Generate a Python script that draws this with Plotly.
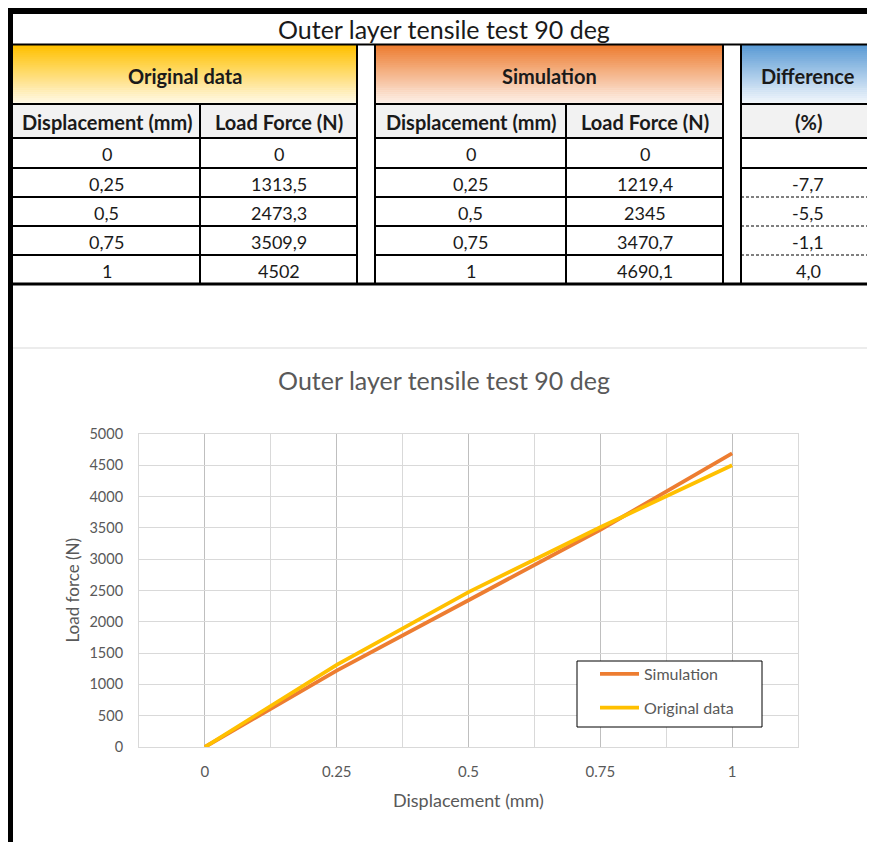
import plotly.graph_objects as go

# ---------------- data ----------------
title_text = "Outer layer tensile test 90 deg"
group_headers = ["Original data", "Simulation", "Difference"]
sub_headers = ["Displacement (mm)", "Load Force (N)", "Displacement (mm)", "Load Force (N)", "(%)"]
displacement = [0, 0.25, 0.5, 0.75, 1]
original_load = [0, 1313.5, 2473.3, 3509.9, 4502]
simulation_load = [0, 1219.4, 2345, 3470.7, 4690.1]
difference_pct = [None, -7.7, -5.5, -1.1, 4.0]
x_tick_labels = ["0", "0.25", "0.5", "0.75", "1"]
y_ticks = [0, 500, 1000, 1500, 2000, 2500, 3000, 3500, 4000, 4500, 5000]
x_title = "Displacement (mm)"
y_title = "Load force (N)"

FONT = "Lato, Carlito, Calibri, sans-serif"
GREY = "#595959"
OFF = 8            # page body margin of the browser
W, H = 875 - 2 * OFF, 850 - 2 * OFF
XMAX = OFF + W     # right-most reference pixel visible


def X(px):
    return (min(px, XMAX) - OFF) / W


def Y(py):
    return 1 - (py - OFF) / H


def fmt(v):
    return f"{v:g}".replace(".", ",")


shapes = []
annotations = []


def rect(x0, y0, x1, y1, fill, layer="below", line=None):
    shapes.append(dict(type="rect", xref="paper", yref="paper", x0=X(x0), x1=X(x1),
                       y0=Y(y1), y1=Y(y0), fillcolor=fill,
                       line=line if line else dict(width=0), layer=layer))


def hline(x0, x1, y, w=2, color="black", dash="solid"):
    shapes.append(dict(type="line", xref="paper", yref="paper", x0=X(x0), x1=X(x1),
                       y0=Y(y), y1=Y(y), line=dict(color=color, width=w, dash=dash), layer="above"))


def vline(x, y0, y1, w=2, color="black"):
    shapes.append(dict(type="line", xref="paper", yref="paper", x0=X(x), x1=X(x),
                       y0=Y(y0), y1=Y(y1), line=dict(color=color, width=w), layer="above"))


def text(x, y, s, size=15, bold=False, color="black", angle=0):
    annotations.append(dict(xref="paper", yref="paper", x=X(x), y=Y(y), text=f"<b>{s}</b>" if bold else s,
                            showarrow=False, xanchor="center", yanchor="middle", textangle=angle,
                            font=dict(family=FONT, size=size, color=color)))


def gradient(x0, x1, y0, y1, c_top, c_bot, n=30):
    step = (y1 - y0) / n
    for i in range(n):
        t = i / (n - 1)
        c = tuple(round(a + (b - a) * t) for a, b in zip(c_top, c_bot))
        rect(x0, y0 + i * step, x1, y0 + (i + 1) * step + 0.6, f"rgb{c}")


# ---------------- table geometry ----------------
blocks = [(13, 357), (375, 723), (741, 875)]
col_edges = [(13, 200), (200, 357), (375, 566), (566, 723), (741, 875)]
row_tops = [138, 168, 197, 226, 255, 284]

gradient(13, 357, 45, 104, (255, 192, 0), (255, 249, 230))
gradient(375, 723, 45, 104, (237, 125, 49), (253, 240, 232))
gradient(741, 875, 45, 104, (91, 155, 213), (242, 247, 252))
for a, b in blocks:
    rect(a, 104, b, 138, "#F2F2F2")

text(444, 29, title_text, size=25, color="#1a1a1a")
for (a, b), s in zip(blocks, group_headers):
    text((a + b) / 2, 76, s, size=20, bold=True, color="#1a1a1a")
for (a, b), s in zip(col_edges, sub_headers):
    text((a + b) / 2, 122, s, size=20, bold=True, color="#1a1a1a")

columns = [
    [fmt(v) for v in displacement],
    [fmt(v) for v in original_load],
    [fmt(v) for v in displacement],
    [fmt(v) for v in simulation_load],
    ["" if v is None else f"{v:.1f}".replace(".", ",") for v in difference_pct],
]
for (a, b), col in zip(col_edges, columns):
    for i, s in enumerate(col):
        if s:
            text((a + b) / 2, (row_tops[i] + row_tops[i + 1]) / 2 + 1, s, size=18, color="#1a1a1a")

hline(7, 875, 11, w=6)
hline(13, 875, 44.5, w=2)
for a, b in blocks:
    hline(a, b, 104, w=2)
    hline(a, b, 138, w=2)
    hline(a, b, 168, w=2)
for y in (197, 226, 255):
    hline(13, 357, y, w=2)
    hline(375, 723, y, w=2)
    hline(741, 875, y, w=1, dash="3px,2px")
hline(13, 875, 284, w=3)
vline(200, 104, 284)
vline(566, 104, 284)
for x in (357, 375, 723, 741):
    vline(x, 44, 284)
vline(10, 8, 850, w=6)
hline(13, 875, 348, w=1, color="#D9D9D9")

# chart titles and legend frame
text(468.5, 800, x_title, size=18, color=GREY)
text(72, 590.5, y_title, size=17, color=GREY, angle=-90)
rect(577, 661, 762, 727, "white", layer="above", line=dict(color="black", width=1))

# ---------------- chart ----------------
fig = go.Figure()
fig.add_trace(go.Scatter(x=displacement, y=simulation_load, name="Simulation", mode="lines",
                         legendgroup="a", line=dict(color="#ED7D31", width=3.8)))
fig.add_trace(go.Scatter(x=displacement, y=original_load, name="Original data", mode="lines",
                         legendgroup="b", line=dict(color="#FFC000", width=3.8)))

fig.update_layout(
    width=W, height=H, autosize=False,
    margin=dict(l=0, r=0, t=0, b=0, pad=0, autoexpand=False),
    paper_bgcolor="white", plot_bgcolor="white",
    font=dict(family=FONT, color=GREY),
    title=dict(text=title_text, x=X(444), xanchor="center", y=Y(381), yanchor="middle",
               font=dict(family=FONT, size=25, color=GREY)),
    shapes=shapes, annotations=annotations,
    showlegend=True,
    legend=dict(x=X(595), y=Y(657), xanchor="left", yanchor="top",
                borderwidth=0, bgcolor="rgba(0,0,0,0)",
                font=dict(family=FONT, size=16, color=GREY),
                tracegroupgap=10, itemwidth=39),
    xaxis=dict(domain=[X(139), X(798)], range=[-0.125, 1.125], automargin=False,
               tickmode="array", tickvals=displacement, ticktext=x_tick_labels,
               showgrid=True, gridcolor="#BFBFBF", gridwidth=1,
               minor=dict(dtick=0.125, tick0=0, showgrid=True, gridcolor="#D9D9D9"),
               showline=True, linecolor="#D9D9D9", mirror=True, zeroline=False,
               ticks="outside", ticklen=11, tickcolor="rgba(0,0,0,0)",
               tickfont=dict(family=FONT, size=15, color=GREY)),
    yaxis=dict(domain=[Y(747), Y(434)], range=[0, 5000], automargin=False,
               tickmode="array", tickvals=y_ticks,
               showgrid=True, gridcolor="#D9D9D9", gridwidth=1,
               showline=True, linecolor="#D9D9D9", mirror=True, zeroline=False,
               ticks="outside", ticklen=12, tickcolor="rgba(0,0,0,0)",
               tickfont=dict(family=FONT, size=14.5, color=GREY)),
)

fig.write_html("out.html")
